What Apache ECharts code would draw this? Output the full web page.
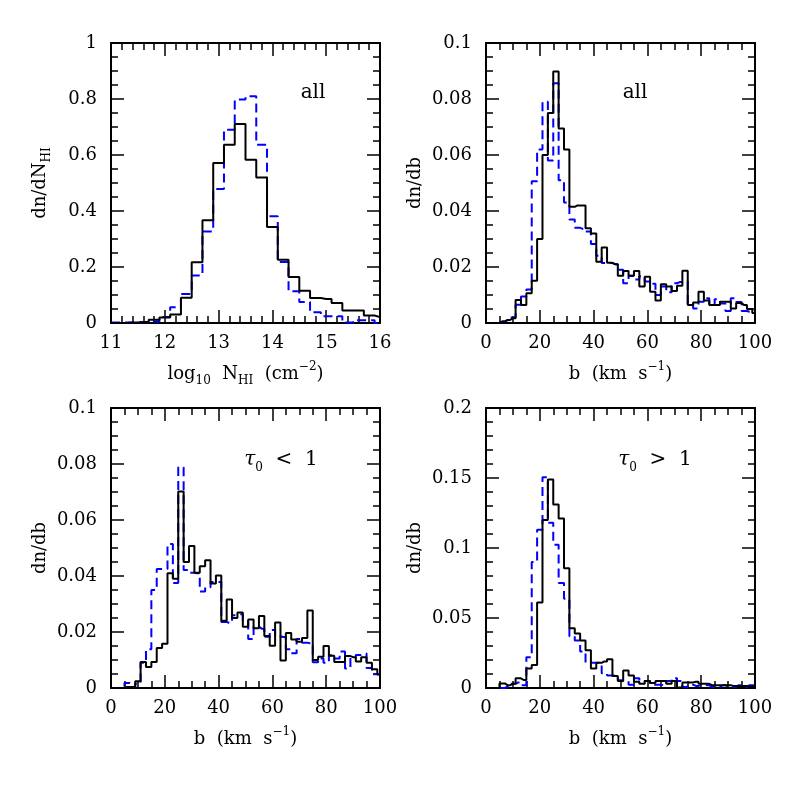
<!DOCTYPE html>
<html>
<head>
<meta charset="utf-8">
<script src="https://cdn.jsdelivr.net/npm/echarts@6/dist/echarts.min.js"></script>
<style>
  html, body { margin: 0; padding: 0; background: #fff; }
  #chart { width: 797px; height: 797px; }
</style>
</head>
<body>
<div id="chart"></div>
<script>
// bin centres (bins are 0.2 dex and 2 km/s wide)
const logN = [11.0, 11.2, 11.4, 11.6, 11.8, 12.0, 12.2, 12.4, 12.6, 12.8, 13.0, 13.2, 13.4,
  13.6, 13.8, 14.0, 14.2, 14.4, 14.6, 14.8, 15.0, 15.2, 15.4, 15.6, 15.8, 16.0]
const bVel = [0, 2, 4, 6, 8, 10, 12, 14, 16, 18, 20, 22, 24, 26, 28, 30, 32, 34, 36, 38, 40,
  42, 44, 46, 48, 50, 52, 54, 56, 58, 60, 62, 64, 66, 68, 70, 72, 74, 76, 78, 80,
  82, 84, 86, 88, 90, 92, 94, 96, 98, 100]

// top left: dn/dN_HI, all lines
const allN_black = [0, 0, 0.002, 0.004, 0.012, 0.02, 0.03, 0.09, 0.217, 0.367, 0.571, 0.637, 0.711,
  0.583, 0.52, 0.343, 0.226, 0.164, 0.115, 0.089, 0.086, 0.071, 0.045, 0.045, 0.027, 0.021]
const allN_blue = [0.002, 0.002, 0.002, 0.003, 0.005, 0.021, 0.056, 0.104, 0.17, 0.327, 0.479, 0.69, 0.798,
  0.81, 0.637, 0.381, 0.218, 0.113, 0.075, 0.038, 0.024, 0.024, 0.002, 0.01, 0.01, 0]

// top right: dn/db, all lines
const allB_black = [0, 0, 0, 0.0005, 0.0011, 0.0017, 0.0082, 0.0064, 0.0106, 0.0151, 0.030,
  0.060, 0.075, 0.0898, 0.0695, 0.062, 0.0415, 0.042, 0.042, 0.0338, 0.032,
  0.0219, 0.027, 0.0215, 0.021, 0.0169, 0.0186, 0.0169, 0.0186, 0.013, 0.0165,
  0.0112, 0.008, 0.0138, 0.013, 0.0114, 0.0133, 0.0187, 0.0064, 0.0073, 0.0112,
  0.008, 0.0064, 0.0064, 0.0076, 0.0076, 0.0052, 0.0071, 0.0064, 0.005, 0.0036]
const allB_blue = [0, 0, 0.0002, 0.0005, 0.001, 0.002, 0.0065, 0.0095, 0.012, 0.0506, 0.062,
  0.079, 0.058, 0.0856, 0.051, 0.043, 0.037, 0.034, 0.0336, 0.0327, 0.0282,
  0.024, 0.0214, 0.0214, 0.021, 0.019, 0.0142, 0.0169, 0.0155, 0.0167, 0.0148,
  0.014, 0.01, 0.013, 0.011, 0.0142, 0.0146, 0.015, 0.007, 0.0052, 0.0076,
  0.0088, 0.0064, 0.0085, 0.007, 0.0043, 0.0088, 0.0075, 0.0043, 0.004, 0.004]

// bottom left: tau0 < 1
const lowB_black = [0, 0, 0, 0.0004, 0.0004, 0.0024, 0.0093, 0.0075, 0.0093, 0.0143, 0.0158,
  0.041, 0.039, 0.0702, 0.045, 0.0507, 0.0412, 0.0435, 0.0456, 0.0373, 0.0402,
  0.024, 0.0316, 0.025, 0.027, 0.0219, 0.0245, 0.0213, 0.0257, 0.0186, 0.0151,
  0.0234, 0.0098, 0.0196, 0.0173, 0.0165, 0.0179, 0.0277, 0.01, 0.0112, 0.015,
  0.0115, 0.0093, 0.0093, 0.0114, 0.011, 0.0095, 0.011, 0.009, 0.0067, 0.0048]
const lowB_blue = [0, 0, 0.0004, 0.0018, 0.0004, 0.0015, 0.009, 0.0138, 0.035, 0.0425, 0.0425,
  0.0514, 0.0375, 0.0788, 0.0421, 0.0412, 0.041, 0.0345, 0.036, 0.0379, 0.0379,
  0.0236, 0.0232, 0.026, 0.0263, 0.0237, 0.0175, 0.0219, 0.0212, 0.0183, 0.0207,
  0.0185, 0.0182, 0.0138, 0.0124, 0.0175, 0.0162, 0.016, 0.0092, 0.0105, 0.009,
  0.0117, 0.0105, 0.013, 0.007, 0.0108, 0.0118, 0.0123, 0.0071, 0.0049, 0.005]

// bottom right: tau0 > 1
const highB_black = [0, 0, 0, 0.0033, 0.002, 0.003, 0.0069, 0.0057, 0.014, 0.0165, 0.061,
  0.12, 0.149, 0.131, 0.121, 0.0855, 0.0426, 0.039, 0.034, 0.027, 0.014,
  0.018, 0.019, 0.0205, 0.0085, 0.005, 0.0125, 0.009, 0.0045, 0.003, 0.005,
  0.0035, 0.005, 0.005, 0.003, 0.005, 0.0003, 0.004, 0.004, 0.0045, 0.003,
  0.003, 0.002, 0.002, 0.002, 0.002, 0.0015, 0.0015, 0.0015, 0.001, 0.001]
const highB_blue = [0, 0, 0, 0, 0.001, 0.003, 0.004, 0.002, 0.022, 0.09, 0.113,
  0.1505, 0.118, 0.1024, 0.075, 0.0638, 0.037, 0.034, 0.026, 0.018, 0.018,
  0.018, 0.0105, 0.009, 0.009, 0.0055, 0.005, 0.0024, 0.007, 0.005, 0.005,
  0.0024, 0.0024, 0.002, 0.005, 0.007, 0.005, 0.0008, 0.0024, 0.0015, 0.002,
  0.002, 0.0008, 0.0008, 0.002, 0.0008, 0.0008, 0.002, 0.0008, 0.002, 0.002]

const FONT = 'DejaVu Serif'
const rich = {
  n: {fontFamily: FONT, fontSize: 18, lineHeight: 26, color: '#000'},
  s: {fontFamily: FONT, fontSize: 12, lineHeight: 12, verticalAlign: 'bottom', color: '#000'},
  p: {fontFamily: FONT, fontSize: 12, lineHeight: 12, verticalAlign: 'top', color: '#000'}
}

const panels = [
  {grid: {left: 111, top: 43, width: 269, height: 280}, x: logN, black: allN_black, blue: allN_blue,
    xr: [11, 16, 1, 5], yr: [0, 1, 0.2, 4],
    xname: '{n|log}{s|10}{n|  N}{s|HI}{n|  (cm}{p|−2}{n|)}', yname: '{n|dn/dN}{s|HI}'},
  {grid: {left: 486, top: 43, width: 269, height: 280}, x: bVel, black: allB_black, blue: allB_blue,
    xr: [0, 100, 20, 4], yr: [0, 0.1, 0.02, 4],
    xname: '{n|b  (km  s}{p|−1}{n|)}', yname: '{n|dn/db}'},
  {grid: {left: 111, top: 408, width: 269, height: 280}, x: bVel, black: lowB_black, blue: lowB_blue,
    xr: [0, 100, 20, 4], yr: [0, 0.1, 0.02, 4],
    xname: '{n|b  (km  s}{p|−1}{n|)}', yname: '{n|dn/db}'},
  {grid: {left: 486, top: 408, width: 269, height: 280}, x: bVel, black: highB_black, blue: highB_blue,
    xr: [0, 100, 20, 4], yr: [0, 0.2, 0.05, 5],
    xname: '{n|b  (km  s}{p|−1}{n|)}', yname: '{n|dn/db}'}
]

function axis(gi, r, position, labels, name, isX) {
  return {
    type: 'value',
    gridIndex: gi,
    position: position,
    min: r[0], max: r[1], interval: r[2],
    axisLine: {show: true, onZero: false, lineStyle: {color: '#000', width: 2}},
    axisTick: {show: true, inside: true, length: 13, lineStyle: {color: '#000', width: 1.5}},
    minorTick: {show: true, splitNumber: r[3], length: 7, lineStyle: {color: '#000', width: 1.5}},
    splitLine: {show: false},
    axisLabel: {show: labels, margin: isX ? 11 : 14, color: '#000', fontFamily: FONT, fontSize: 18,
      showMinLabel: true, showMaxLabel: true},
    name: name || '',
    nameLocation: 'middle',
    nameGap: isX ? 38 : 58,
    nameTextStyle: {rich: rich}
  }
}

const xAxis = [], yAxis = [], grid = [], series = []
panels.forEach((p, i) => {
  grid.push(p.grid)
  xAxis.push(axis(i, p.xr, 'bottom', true, p.xname, true))
  xAxis.push(axis(i, p.xr, 'top', false, '', true))
  yAxis.push(axis(i, p.yr, 'left', true, p.yname, false))
  yAxis.push(axis(i, p.yr, 'right', false, '', false))
  series.push({
    type: 'line', step: 'middle', xAxisIndex: 2 * i, yAxisIndex: 2 * i,
    data: p.x.map((v, k) => [v, p.blue[k]]),
    showSymbol: false, silent: true,
    lineStyle: {color: '#0000ff', width: 2, type: [9, 5]}
  })
  series.push({
    type: 'line', step: 'middle', xAxisIndex: 2 * i, yAxisIndex: 2 * i,
    data: p.x.map((v, k) => [v, p.black[k]]),
    showSymbol: false, silent: true,
    lineStyle: {color: '#000', width: 2}
  })
})

const noteRich = {
  n: {fontFamily: FONT, fontSize: 20, color: '#000'},
  t: {fontFamily: FONT, fontSize: 20, fontStyle: 'italic', color: '#000', lineHeight: 28},
  s: {fontFamily: FONT, fontSize: 12, color: '#000', lineHeight: 12, verticalAlign: 'bottom'}
}
function note(x, y, text) {
  return {type: 'text', x: x, y: y, silent: true,
    style: {text: text, align: 'center', verticalAlign: 'middle', rich: noteRich,
      font: '20px "DejaVu Serif"', fill: '#000'}}
}

const chart = echarts.init(document.getElementById('chart'), null, {renderer: 'canvas'})
chart.setOption({
  animation: false,
  backgroundColor: '#fff',
  grid: grid,
  xAxis: xAxis,
  yAxis: yAxis,
  series: series,
  graphic: [
    note(313, 93, '{n|all}'),
    note(635, 93, '{n|all}'),
    note(281, 460, '{t|τ}{s|0}{n|  <  1}'),
    note(655, 460, '{t|τ}{s|0}{n|  >  1}')
  ]
})
</script>
</body>
</html>
